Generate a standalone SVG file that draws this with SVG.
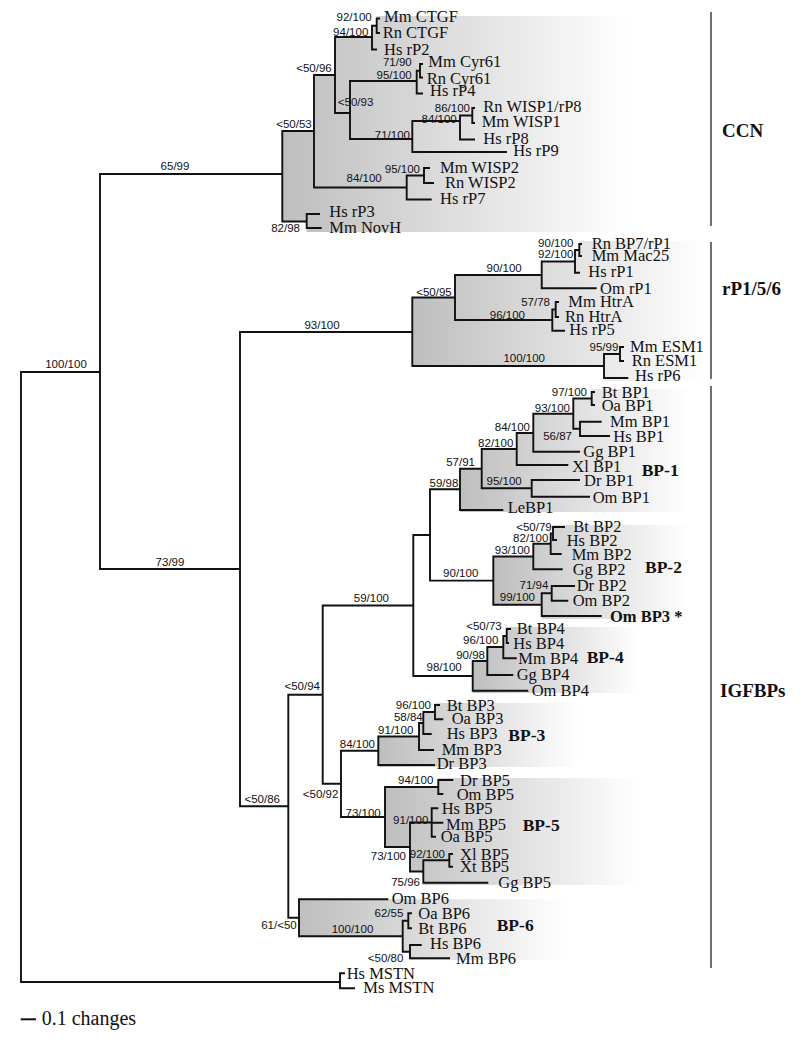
<svg xmlns="http://www.w3.org/2000/svg" width="800" height="1044" viewBox="0 0 800 1044">
<defs>
<linearGradient id="fade" x1="0" y1="0" x2="1" y2="0">
<stop offset="0" stop-color="#bebebe"/>
<stop offset="0.4" stop-color="#d8d8d8"/>
<stop offset="1" stop-color="#ffffff"/>
</linearGradient>
<style>
.br{fill:none;stroke:#111;stroke-width:1.9;stroke-linejoin:miter;stroke-linecap:butt}
.sh{fill:url(#fade);stroke:none}
.tx{font-family:"Liberation Serif","Times New Roman",serif;font-size:16.5px;fill:#111}
.bs{font-family:"Liberation Sans",Arial,sans-serif;font-size:11.5px;fill:#111;text-anchor:end}
.bc{font-family:"Liberation Sans",Arial,sans-serif;font-size:11.5px;fill:#111;text-anchor:middle}
.cl{font-family:"Liberation Serif","Times New Roman",serif;font-size:17.5px;font-weight:bold;fill:#111}
.gl{font-family:"Liberation Serif","Times New Roman",serif;font-size:19px;font-weight:bold;fill:#111}
.gr{stroke:#707070;stroke-width:2}
</style>
</defs>
<rect width="800" height="1044" fill="#fff"/>
<g id="shading">
<polygon class="sh" points="282.3,221.5 282.3,131 314,131 314,75 335,75 335,37 372,37 372,25.75 376.7,25.75 376.7,16 630,16 630,232 306.7,232 306.7,221.5"/>
<polygon class="sh" points="412.3,366 412.3,297.5 455,297.5 455,275 541.7,275 541.7,261.5 575,261.5 575,250 579.3,250 579.3,241 705,241 705,381 604,381 604,366"/>
<polygon class="sh" points="460,510 460,468.7 481.7,468.7 481.7,449 516.7,449 516.7,433 533.3,433 533.3,413.7 573.3,413.7 573.3,398.5 591.7,398.5 591.7,389 690,389 690,512 460,512"/>
<polygon class="sh" points="493.3,604.7 493.3,556.5 533.3,556.5 533.3,543.8 550.7,543.8 550.7,533.5 553,533.5 553,525 690,525 690,619 541.7,619 541.7,604.7"/>
<polygon class="sh" points="472.7,690.7 472.7,661 487.3,661 487.3,647 503.3,647 503.3,636 506.7,636 506.7,627 640,627 640,693 472.7,693"/>
<polygon class="sh" points="378.3,765 378.3,736.5 419,736.5 419,723 423.3,723 423.3,712 435,712 435,703 580,703 580,767 378.3,767"/>
<polygon class="sh" points="385,847 385,787 438.3,787 438.3,778 640,778 640,885 423.3,885 423.3,871.5 410,871.5 410,847"/>
<polygon class="sh" points="299,936.2 299,899.3 570,899.3 570,960 410,960 410,951.7 402.7,951.7 402.7,936.2"/>
</g>
<g id="connectors" class="br">
<path d="M100 372H21V982H340"/>
<path d="M345 973.3H340V988.3H355"/>
<path d="M282.3 174H100V569H240"/>
<path d="M314 131H282.3V221.5H306.7"/>
<path d="M320 214H306.7V228H321.7"/>
<path d="M335 75H314V187.5H406.7"/>
<path d="M372 37H335V113H350"/>
<path d="M376.7 25.75H372V49.5H377"/>
<path d="M380 18.5H376.7V33H380"/>
<path d="M416.7 81H350V139H412.3"/>
<path d="M420 70.75H416.7V93.5H423"/>
<path d="M423 64H420V77.5H423"/>
<path d="M460 121H412.3V152H507"/>
<path d="M472.3 115.5H460V139.5H475"/>
<path d="M475 108H472.3V123H475"/>
<path d="M424 175.5H406.7V199.5H431.7"/>
<path d="M430 168H424V183H434"/>
<path d="M412.3 332H240V806.3H288.3"/>
<path d="M455 297.5H412.3V366H604"/>
<path d="M541.7 275H455V320H552.3"/>
<path d="M575 261.5H541.7V288.3H596.7"/>
<path d="M579.3 250H575V272.7H580"/>
<path d="M582 244H579.3V256H582"/>
<path d="M555.7 309.5H552.3V330.7H565"/>
<path d="M559 302H555.7V317H559"/>
<path d="M620 354H604V378H628.3"/>
<path d="M624 347H620V361H624"/>
<path d="M322.7 694.7H288.3V917.8H299"/>
<path d="M413.3 605.5H322.7V783.8H341"/>
<path d="M430 535H413.3V676H472.7"/>
<path d="M460 489.3H430V580.6H493.3"/>
<path d="M481.7 468.7H460V510H503.3"/>
<path d="M516.7 449H481.7V488.3H531.7"/>
<path d="M533.3 433H516.7V465H568.3"/>
<path d="M573.3 413.7H533.3V451.7H580"/>
<path d="M591.7 398.5H573.3V428.8H580"/>
<path d="M595 392H591.7V405H595"/>
<path d="M601.7 421.7H580V436H610"/>
<path d="M580 480H531.7V496.7H590"/>
<path d="M533.3 556.5H493.3V604.7H541.7"/>
<path d="M550.7 543.8H533.3V569.3H562.7"/>
<path d="M553 533.5H550.7V554H561.7"/>
<path d="M565 527H553V540H557"/>
<path d="M551.7 593.3H541.7V616H601.7"/>
<path d="M575 586H551.7V600.7H568.3"/>
<path d="M487.3 661H472.7V690.7H528.3"/>
<path d="M503.3 647H487.3V675H513.3"/>
<path d="M506.7 636H503.3V658.3H516.7"/>
<path d="M511 629H506.7V643H509"/>
<path d="M378.3 750.7H341V817H385"/>
<path d="M419 736.5H378.3V765H435"/>
<path d="M423.3 723H419V750H434"/>
<path d="M435 712H423.3V734H431.7"/>
<path d="M440 705H435V719.3H443.3"/>
<path d="M438.3 787H385V847H410"/>
<path d="M453.3 780H438.3V794H443.3"/>
<path d="M431.7 822.5H410V871.5H423.3"/>
<path d="M438.3 808.3H431.7V836.7H436M431.7 822.7H443.3"/>
<path d="M449.3 860.3H423.3V882.7H488.3"/>
<path d="M453 854H449.3V866.7H453"/>
<path d="M388.3 899.3H299V936.2H402.7"/>
<path d="M408.3 920.8H402.7V951.7H410"/>
<path d="M412 913.3H408.3V928.3H412"/>
<path d="M421.7 945H410V958.3H450"/>
</g>
<g id="group-bars">
<line class="gr" x1="711" y1="12" x2="711" y2="226"/>
<line class="gr" x1="711" y1="242" x2="711" y2="379"/>
<line class="gr" x1="711" y1="386" x2="711" y2="968"/>
<text class="gl" x="722" y="137">CCN</text>
<text class="gl" x="722" y="295">rP1/5/6</text>
<text class="gl" x="720" y="697">IGFBPs</text>
</g>
<g id="clade-labels">
<text class="cl" x="641.7" y="476">BP-1</text>
<text class="cl" x="645" y="573">BP-2</text>
<text class="cl" x="586.7" y="663">BP-4</text>
<text class="cl" x="508.3" y="740.5">BP-3</text>
<text class="cl" x="522.7" y="831">BP-5</text>
<text class="cl" x="496.7" y="931">BP-6</text>
</g>
<g id="taxa" class="tx">
<g id="t-mm-ctgf"><text x="384" y="22.2">Mm CTGF</text></g>
<g id="t-rn-ctgf"><text x="382.7" y="37.8">Rn CTGF</text></g>
<g id="t-hs-rp2"><text x="384" y="54.5">Hs rP2</text></g>
<g id="t-mm-cyr61"><text x="428.3" y="67.2">Mm Cyr61</text></g>
<g id="t-rn-cyr61"><text x="426.7" y="83.8">Rn Cyr61</text></g>
<g id="t-hs-rp4"><text x="430" y="95.5">Hs rP4</text></g>
<g id="t-rn-wisp1"><text x="483.3" y="112.2">Rn WISP1/rP8</text></g>
<g id="t-mm-wisp1"><text x="481.7" y="127.2">Mm WISP1</text></g>
<g id="t-hs-rp8"><text x="483.3" y="143.8">Hs rP8</text></g>
<g id="t-hs-rp9"><text x="513.3" y="156.2">Hs rP9</text></g>
<g id="t-mm-wisp2"><text x="440" y="172.8">Mm WISP2</text></g>
<g id="t-rn-wisp2"><text x="445" y="187.8">Rn WISP2</text></g>
<g id="t-hs-rp7"><text x="440" y="203.8">Hs rP7</text></g>
<g id="t-hs-rp3"><text x="329.3" y="216.5">Hs rP3</text></g>
<g id="t-mm-novh"><text x="329.3" y="232.8">Mm NovH</text></g>
<g id="t-rn-bp7"><text x="591.7" y="248.5">Rn BP7/rP1</text></g>
<g id="t-mm-mac25"><text x="591.7" y="260.5">Mm Mac25</text></g>
<g id="t-hs-rp1"><text x="588.3" y="277.2">Hs rP1</text></g>
<g id="t-om-rp1"><text x="600" y="293.5">Om rP1</text></g>
<g id="t-mm-htra"><text x="568.3" y="307.2">Mm HtrA</text></g>
<g id="t-rn-htra"><text x="565" y="322.2">Rn HtrA</text></g>
<g id="t-hs-rp5"><text x="569.3" y="334.8">Hs rP5</text></g>
<g id="t-mm-esm1"><text x="630" y="351.5">Mm ESM1</text></g>
<g id="t-rn-esm1"><text x="631.7" y="366.2">Rn ESM1</text></g>
<g id="t-hs-rp6"><text x="635" y="380.5">Hs rP6</text></g>
<g id="t-bt-bp1"><text x="601.7" y="397.8">Bt BP1</text></g>
<g id="t-oa-bp1"><text x="601.7" y="411">Oa BP1</text></g>
<g id="t-mm-bp1"><text x="610" y="427.2">Mm BP1</text></g>
<g id="t-hs-bp1"><text x="613.3" y="441.5">Hs BP1</text></g>
<g id="t-gg-bp1"><text x="583.3" y="457.2">Gg BP1</text></g>
<g id="t-xl-bp1"><text x="572.3" y="471.5">Xl BP1</text></g>
<g id="t-dr-bp1"><text x="584" y="486.2">Dr BP1</text></g>
<g id="t-om-bp1"><text x="592.7" y="502.8">Om BP1</text></g>
<g id="t-le-bp1"><text x="507.7" y="512.8">LeBP1</text></g>
<g id="t-bt-bp2"><text x="573.3" y="532.2">Bt BP2</text></g>
<g id="t-hs-bp2"><text x="566.7" y="546.2">Hs BP2</text></g>
<g id="t-mm-bp2"><text x="571.7" y="559.5">Mm BP2</text></g>
<g id="t-gg-bp2"><text x="572.7" y="574.8">Gg BP2</text></g>
<g id="t-dr-bp2"><text x="576.7" y="590.5">Dr BP2</text></g>
<g id="t-om-bp2"><text x="572.7" y="605.5">Om BP2</text></g>
<g id="t-om-bp3"><text x="610" y="622.2" font-weight="bold">Om BP3 *</text></g>
<g id="t-bt-bp4"><text x="516.7" y="633.8">Bt BP4</text></g>
<g id="t-hs-bp4"><text x="513.3" y="648.8">Hs BP4</text></g>
<g id="t-mm-bp4"><text x="518.3" y="663.8">Mm BP4</text></g>
<g id="t-gg-bp4"><text x="516.7" y="679.5">Gg BP4</text></g>
<g id="t-om-bp4"><text x="531.7" y="695.5">Om BP4</text></g>
<g id="t-bt-bp3"><text x="446.7" y="710.5">Bt BP3</text></g>
<g id="t-oa-bp3"><text x="451.7" y="723.8">Oa BP3</text></g>
<g id="t-hs-bp3"><text x="446.7" y="738.8">Hs BP3</text></g>
<g id="t-mm-bp3"><text x="441.7" y="754.5">Mm BP3</text></g>
<g id="t-dr-bp3"><text x="436.7" y="768.8">Dr BP3</text></g>
<g id="t-dr-bp5"><text x="460" y="785.5">Dr BP5</text></g>
<g id="t-om-bp5"><text x="456.7" y="799.5">Om BP5</text></g>
<g id="t-hs-bp5"><text x="441.7" y="813.8">Hs BP5</text></g>
<g id="t-mm-bp5"><text x="446" y="829.5">Mm BP5</text></g>
<g id="t-oa-bp5"><text x="440.7" y="842.2">Oa BP5</text></g>
<g id="t-xl-bp5"><text x="460" y="859.5">Xl BP5</text></g>
<g id="t-xt-bp5"><text x="460" y="872.2">Xt BP5</text></g>
<g id="t-gg-bp5"><text x="498.3" y="888.2">Gg BP5</text></g>
<g id="t-om-bp6"><text x="391.7" y="903.8">Om BP6</text></g>
<g id="t-oa-bp6"><text x="418.3" y="918.8">Oa BP6</text></g>
<g id="t-bt-bp6"><text x="418.3" y="933.8">Bt BP6</text></g>
<g id="t-hs-bp6"><text x="430" y="948.8">Hs BP6</text></g>
<g id="t-mm-bp6"><text x="456" y="963.8">Mm BP6</text></g>
<g id="t-hs-mstn"><text x="346.7" y="978.8">Hs MSTN</text></g>
<g id="t-ms-mstn"><text x="363.3" y="993.2">Ms MSTN</text></g>
</g>
<g id="support">
<text class="bc" x="66" y="368">100/100</text>
<text class="bc" x="175" y="170">65/99</text>
<text class="bc" x="170" y="566">73/99</text>
<text class="bc" x="322" y="329">93/100</text>
<text class="bs" x="371.7" y="20.7">92/100</text>
<text class="bs" x="368.3" y="35.7">94/100</text>
<text class="bs" x="331.7" y="72.3">&lt;50/96</text>
<text class="bs" x="411.7" y="65.7">71/90</text>
<text class="bs" x="411.7" y="79">95/100</text>
<text class="bs" x="373.3" y="105.7">&lt;50/93</text>
<text class="bs" x="470" y="112.3">86/100</text>
<text class="bs" x="456.7" y="123.3">84/100</text>
<text class="bs" x="410" y="139">71/100</text>
<text class="bs" x="420" y="173.3">95/100</text>
<text class="bs" x="381.7" y="182.3">84/100</text>
<text class="bs" x="311.7" y="128.3">&lt;50/53</text>
<text class="bs" x="300" y="232.3">82/98</text>
<text class="bs" x="573.3" y="246.7">90/100</text>
<text class="bs" x="573.3" y="258.3">92/100</text>
<text class="bs" x="521.7" y="271.5">90/100</text>
<text class="bs" x="451.7" y="295.7">&lt;50/95</text>
<text class="bs" x="550" y="305.7">57/78</text>
<text class="bs" x="525" y="319">96/100</text>
<text class="bs" x="618.3" y="350.7">95/99</text>
<text class="bs" x="545" y="362.3">100/100</text>
<text class="bs" x="587" y="396.3">97/100</text>
<text class="bs" x="570" y="412.3">93/100</text>
<text class="bs" x="530" y="430.7">84/100</text>
<text class="bs" x="572" y="439.5">56/87</text>
<text class="bs" x="513.3" y="446.7">82/100</text>
<text class="bs" x="475" y="465.7">57/91</text>
<text class="bs" x="521.7" y="484.7">95/100</text>
<text class="bs" x="458.3" y="487.3">59/98</text>
<text class="bs" x="551.7" y="530.7">&lt;50/79</text>
<text class="bs" x="548.3" y="542.3">82/100</text>
<text class="bs" x="530" y="554">93/100</text>
<text class="bs" x="478.3" y="577.3">90/100</text>
<text class="bs" x="548.3" y="589">71/94</text>
<text class="bs" x="535" y="601.3">99/100</text>
<text class="bs" x="389" y="602">59/100</text>
<text class="bs" x="501.7" y="630">&lt;50/73</text>
<text class="bs" x="498.3" y="644">96/100</text>
<text class="bs" x="485" y="659">90/98</text>
<text class="bs" x="461.7" y="671.3">98/100</text>
<text class="bs" x="320" y="690">&lt;50/94</text>
<text class="bs" x="431" y="709">96/100</text>
<text class="bs" x="422.7" y="720.7">58/84</text>
<text class="bs" x="413.3" y="734">91/100</text>
<text class="bs" x="375" y="748">84/100</text>
<text class="bs" x="433.3" y="784">94/100</text>
<text class="bs" x="338.3" y="798">&lt;50/92</text>
<text class="bs" x="280" y="803">&lt;50/86</text>
<text class="bs" x="380.7" y="816.7">73/100</text>
<text class="bs" x="428.3" y="824">91/100</text>
<text class="bs" x="445" y="858">92/100</text>
<text class="bs" x="406" y="860">73/100</text>
<text class="bs" x="420" y="885.7">75/96</text>
<text class="bs" x="403.3" y="917.3">62/55</text>
<text class="bs" x="296.7" y="929">61/&lt;50</text>
<text class="bs" x="373.3" y="933.3">100/100</text>
<text class="bs" x="403.3" y="962.3">&lt;50/80</text>
</g>
<g id="scale">
<line x1="20.7" y1="1019.3" x2="36" y2="1019.3" stroke="#111" stroke-width="2"/>
<text x="41.7" y="1025" font-family="Liberation Serif,'Times New Roman',serif" font-size="20px" fill="#111">0.1 changes</text>
</g>
</svg>
